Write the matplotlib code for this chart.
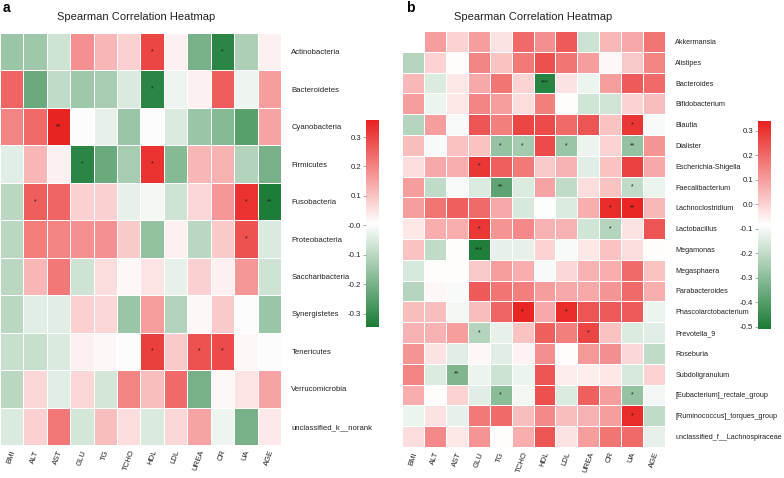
import numpy as np
import matplotlib
matplotlib.use('Agg')
import matplotlib.pyplot as plt
from matplotlib.colors import LinearSegmentedColormap

plt.rcParams['font.family'] = ['Liberation Sans', 'DejaVu Sans']

#_Data__________________________________________________________________________
clinical = ['BMI', 'ALT', 'AST', 'GLU', 'TG', 'TCHO', 'HDL', 'LDL', 'UREA',
            'CR', 'UA', 'AGE']

phyla = ['Actinobacteria', 'Bacteroidetes', 'Cyanobacteria', 'Firmicutes',
         'Fusobacteria', 'Proteobacteria', 'Saccharibacteria', 'Synergistetes',
         'Tenericutes', 'Verrucomicrobia', 'unclassified_k__norank']

corr_a = [
    [-0.15, -0.14, -0.07, 0.18, 0.12, 0.08, 0.30, 0.03, -0.20, -0.32, -0.12, 0.03],
    [0.25, -0.22, -0.09, -0.14, -0.13, -0.05, -0.32, -0.02, 0.03, 0.26, -0.02, 0.16],
    [0.20, 0.24, 0.35, 0.00, -0.03, -0.15, 0.00, -0.05, -0.15, -0.18, -0.25, 0.15],
    [-0.04, 0.12, 0.03, -0.32, -0.22, -0.13, 0.33, -0.18, 0.12, 0.13, -0.11, -0.20],
    [-0.10, 0.26, 0.25, 0.08, 0.08, -0.03, -0.01, -0.07, 0.07, 0.17, 0.33, -0.34],
    [-0.10, 0.21, 0.20, 0.18, 0.18, 0.09, -0.16, 0.03, -0.10, 0.09, 0.28, -0.05],
    [-0.10, 0.12, 0.22, -0.07, 0.06, 0.02, 0.05, -0.03, 0.08, 0.03, 0.17, -0.07],
    [-0.10, -0.04, -0.04, 0.08, 0.07, -0.15, 0.16, -0.11, 0.02, 0.09, 0.00, -0.15],
    [-0.08, -0.08, -0.05, 0.03, 0.02, 0.00, 0.31, 0.09, 0.28, 0.29, 0.02, 0.00],
    [-0.10, 0.07, -0.04, 0.07, -0.06, 0.20, 0.11, 0.24, -0.20, 0.02, 0.05, 0.15],
    [-0.05, 0.08, 0.22, -0.06, 0.11, 0.06, -0.05, 0.07, 0.15, -0.02, -0.20, 0.04],
]

# significance marks (row, column, mark)
stars_a = [(0, 6, '*'), (0, 9, '*'), (1, 6, '*'), (2, 2, '**'), (3, 3, '*'),
           (3, 6, '*'), (4, 1, '*'), (4, 10, '*'), (4, 11, '**'), (5, 10, '*'),
           (8, 6, '*'), (8, 8, '*'), (8, 9, '*')]

genera = ['Akkermansia', 'Alistipes', 'Bacteroides', 'Bifidobacterium',
          'Blautia', 'Dialister', 'Escherichia-Shigella', 'Faecalibacterium',
          'Lachnoclostridium', 'Lactobacillus', 'Megamonas', 'Megasphaera',
          'Parabacteroides', 'Phascolarctobacterium', 'Prevotella_9',
          'Roseburia', 'Subdoligranulum', '[Eubacterium]_rectale_group',
          '[Ruminococcus]_torques_group', 'unclassified_f__Lachnospiraceae']

corr_b = [
    [np.nan, 0.10, 0.00, 0.10, -0.03, 0.20, 0.13, 0.23, -0.18, 0.05, 0.08, 0.18],
    [-0.22, 0.00, -0.08, 0.15, 0.03, 0.17, 0.25, 0.18, 0.10, -0.07, 0.02, 0.15],
    [0.05, -0.15, -0.04, 0.08, 0.18, 0.00, -0.48, -0.03, -0.12, 0.10, 0.23, 0.20],
    [0.10, -0.12, -0.04, 0.15, 0.10, -0.02, 0.16, -0.08, -0.17, -0.17, 0.00, 0.04],
    [-0.22, 0.10, -0.10, 0.24, 0.16, 0.27, 0.26, 0.20, 0.24, 0.03, 0.30, -0.10],
    [0.04, -0.10, 0.03, 0.03, -0.28, -0.25, 0.26, -0.27, -0.12, 0.00, -0.28, 0.12],
    [-0.02, 0.08, 0.07, 0.30, 0.22, 0.17, 0.02, 0.06, -0.14, 0.03, 0.28, 0.08],
    [0.10, -0.20, -0.10, -0.15, -0.38, -0.15, 0.09, -0.20, -0.02, 0.03, -0.20, -0.12],
    [0.10, 0.18, 0.22, 0.20, 0.08, -0.16, -0.09, -0.15, 0.07, 0.32, 0.33, 0.05],
    [-0.04, 0.07, 0.07, 0.30, 0.12, 0.14, 0.06, 0.06, -0.17, -0.22, -0.03, 0.24],
    [0.03, -0.20, -0.08, -0.50, -0.13, -0.13, 0.00, -0.10, -0.04, 0.03, -0.02, -0.08],
    [-0.16, -0.08, -0.08, 0.02, 0.10, 0.07, -0.10, -0.01, 0.06, 0.07, 0.20, 0.03],
    [-0.22, -0.07, -0.10, 0.23, 0.18, 0.16, 0.10, 0.08, 0.08, 0.12, 0.20, 0.07],
    [0.04, 0.04, -0.11, 0.04, 0.21, 0.33, 0.08, 0.32, 0.24, 0.23, 0.23, -0.12],
    [0.06, 0.06, 0.10, -0.22, -0.13, 0.03, 0.22, 0.16, 0.27, 0.03, -0.15, -0.14],
    [0.12, -0.03, -0.14, -0.07, -0.14, -0.06, 0.13, -0.08, 0.11, 0.13, -0.01, -0.20],
    [0.15, -0.15, -0.32, -0.12, -0.18, -0.12, 0.24, -0.05, -0.05, -0.04, -0.16, 0.00],
    [0.07, -0.08, 0.00, -0.14, -0.30, -0.11, 0.25, -0.15, 0.22, 0.10, -0.28, -0.11],
    [-0.12, -0.03, -0.13, 0.17, 0.20, 0.04, 0.14, 0.04, 0.06, 0.10, 0.32, -0.20],
    [-0.02, 0.14, -0.04, 0.12, -0.08, 0.07, 0.24, -0.03, 0.10, 0.18, 0.20, -0.13],
]

stars_b = [(2, 6, '***'), (4, 10, '*'), (5, 4, '*'), (5, 5, '*'), (5, 7, '*'),
           (5, 10, '**'), (6, 3, '*'), (7, 4, '**'), (7, 10, '*'), (8, 9, '*'),
           (8, 10, '**'), (9, 3, '*'), (9, 9, '*'), (10, 3, '***'), (13, 5, '*'),
           (13, 7, '*'), (14, 3, '*'), (14, 8, '*'), (16, 2, '**'), (17, 4, '*'),
           (17, 10, '*'), (18, 10, '*')]

# colour limits and colourbar ticks
lims_a = (-0.345, 0.358)
cbar_ticks_a = [0.3, 0.2, 0.1, 0.0, -0.1, -0.2, -0.3]
cbar_labels_a = ['0.3', '0.2', '0.1', '-0.0', '-0.1', '-0.2', '-0.3']
lims_b = (-0.508, 0.34)
cbar_ticks_b = [0.3, 0.2, 0.1, 0.0, -0.1, -0.2, -0.3, -0.4, -0.5]
cbar_labels_b = ['0.3', '0.2', '0.1', '0.0', '-0.1', '-0.2', '-0.3', '-0.4', '-0.5']

#_Style_________________________________________________________________________
cmap = LinearSegmentedColormap.from_list('gwr', ['#1b7c36', '#ffffff', '#e8211f'])
text_color = '#222222'

#_Plotting______________________________________________________________________

def heatmap(fig, ax_rect, cax_rect, data, rows, stars, lims, ticks, ticklabels,
            row_fs=5.6, col_fs=5.6, cbar_fs=5.6):
    data = np.ma.masked_invalid(np.array(data, dtype=float))
    ax = fig.add_axes(ax_rect)
    mesh = ax.pcolormesh(np.arange(len(clinical) + 1), np.arange(len(rows) + 1),
                         data, cmap=cmap, vmin=lims[0], vmax=lims[1],
                         edgecolor='white', linewidth=0.4)
    ax.set_xlim(0, len(clinical))
    ax.set_ylim(len(rows), 0)
    for s in ax.spines.values():
        s.set_visible(False)
    ax.set_xticks(np.arange(len(clinical)) + 0.5)
    ax.set_xticklabels(clinical, rotation=70, fontsize=col_fs, color=text_color)
    ax.set_yticks(np.arange(len(rows)) + 0.5)
    ax.set_yticklabels(rows, fontsize=row_fs, color=text_color)
    ax.yaxis.tick_right()
    ax.tick_params(length=0)
    ax.tick_params(axis='y', pad=7.5)
    ax.tick_params(axis='x', pad=3)
    for r, c, mark in stars:
        ax.text(c + 0.5, r + 0.5, mark, ha='center', va='center',
                fontsize=5, color='#222222')
    cax = fig.add_axes(cax_rect)
    cb = fig.colorbar(mesh, cax=cax)
    cb.outline.set_visible(False)
    cax.yaxis.set_ticks_position('left')
    cb.set_ticks(ticks)
    cb.set_ticklabels(ticklabels)
    cax.tick_params(labelsize=cbar_fs, length=2, width=0.5, color='#888888',
                    labelcolor=text_color, pad=1.5)
    return ax


fig = plt.figure(figsize=(7.84, 4.78), dpi=100)

ax_a = heatmap(fig, [0.0, 0.069, 0.3584, 0.862], [0.4668, 0.316, 0.0166, 0.433],
               corr_a, phyla, stars_a, lims_a, cbar_ticks_a, cbar_labels_a)
ax_b = heatmap(fig, [0.5128, 0.065, 0.3355, 0.870], [0.9668, 0.312, 0.0166, 0.435],
               corr_b, genera, stars_b, lims_b, cbar_ticks_b, cbar_labels_b,
               row_fs=5.2)

fig.text(136 / 784, 1 - 17 / 478, 'Spearman Correlation Heatmap', ha='center',
         va='center', fontsize=8, color=text_color)
fig.text(533 / 784, 1 - 17 / 478, 'Spearman Correlation Heatmap', ha='center',
         va='center', fontsize=8, color=text_color)
fig.text(3 / 784, 1 - 8 / 478, 'a', ha='left', va='center', fontsize=10,
         fontweight='bold')
fig.text(406 / 784, 1 - 8 / 478, 'b', ha='left', va='center', fontsize=10,
         fontweight='bold')

fig.savefig('out.png', dpi=100)
